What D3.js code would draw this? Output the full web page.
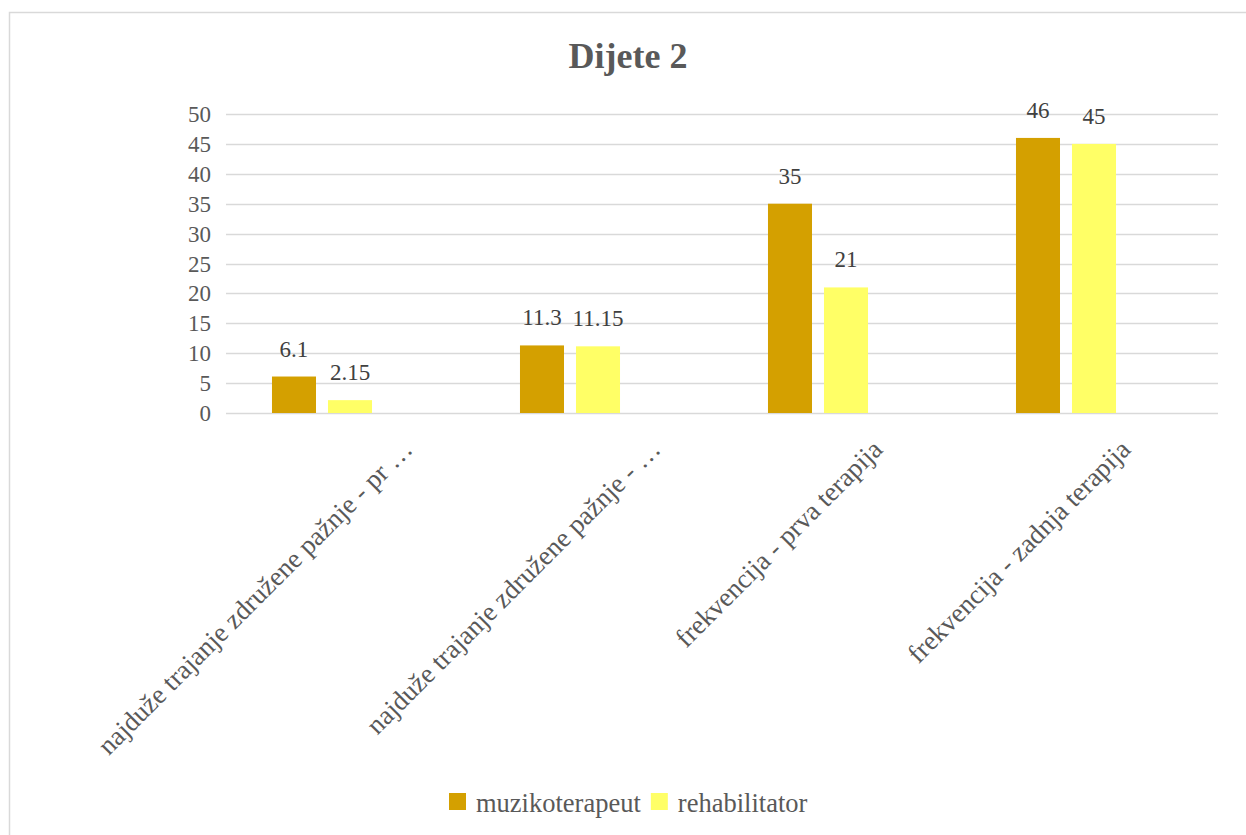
<!DOCTYPE html>
<html>
<head>
<meta charset="utf-8">
<script src="https://cdn.jsdelivr.net/npm/d3@7"></script>
<style>
  html, body { margin: 0; padding: 0; background: #fff; }
  svg { display: block; }
  svg text { font-family: "Liberation Serif", "Times New Roman", serif; }
</style>
</head>
<body>
<svg id="chart" width="1246" height="835"></svg>
<script>
// "Dijete 2" grouped bar chart (muzikoterapeut vs rehabilitator)

const categories = [
  "najduže trajanje združene pažnje - pr …",
  "najduže trajanje združene pažnje - …",
  "frekvencija - prva terapija",
  "frekvencija - zadnja terapija"
];
const seriesNames = ["muzikoterapeut", "rehabilitator"];
const muzikoterapeut = [6.1, 11.3, 35, 46];
const rehabilitator = [2.15, 11.15, 21, 45];
const yTicks = [0, 5, 10, 15, 20, 25, 30, 35, 40, 45, 50];

const COLORS = ["#d4a000", "#ffff66"];
const GRID = "#d9d9d9";
const FONT = "'Liberation Serif', 'Times New Roman', serif";

const svg = d3.select("#chart");
const W = 1246, H = 835;
const plot = { left: 226, right: 1218, top: 114, bottom: 413 };

// chart frame
svg.append("rect")
  .attr("x", 9.5).attr("y", 12.5)
  .attr("width", W).attr("height", H)
  .attr("fill", "none").attr("stroke", GRID).attr("stroke-width", 1.5);

const x = d3.scaleBand().domain(categories).range([plot.left, plot.right]).padding(0);
// Excel reserves room for a third (empty) series slot in every group
const slots = [...seriesNames, "_empty"];
const xInner = d3.scaleBand().domain(slots).range([0, x.bandwidth()])
  .paddingInner(0.214).paddingOuter(0.821);
const y = d3.scaleLinear().domain([0, 50]).range([plot.bottom, plot.top]);

// gridlines
svg.append("g")
  .selectAll("line")
  .data(yTicks)
  .join("line")
    .attr("x1", plot.left).attr("x2", plot.right)
    .attr("y1", d => Math.round(y(d)) + 0.5).attr("y2", d => Math.round(y(d)) + 0.5)
    .attr("stroke", GRID).attr("stroke-width", 1.5);

// y axis labels
const yAxis = svg.append("g")
  .attr("transform", `translate(${plot.left},0)`)
  .call(d3.axisLeft(y).tickValues(yTicks).tickSize(0).tickPadding(15))
  .attr("font-family", FONT)
  .attr("font-size", 23);
yAxis.select(".domain").remove();
yAxis.selectAll("text")
  .attr("font-family", FONT)
  .attr("fill", "#595959")
  .attr("dy", "0.33em");

// bars
const rows = categories.map((c, i) => ({ cat: c, values: [muzikoterapeut[i], rehabilitator[i]] }));
const groups = svg.append("g").selectAll("g")
  .data(rows)
  .join("g")
    .attr("transform", d => `translate(${x(d.cat)},0)`);

groups.selectAll("rect")
  .data(d => d.values.map((v, j) => ({ s: seriesNames[j], v, j })))
  .join("rect")
    .attr("x", d => xInner(d.s))
    .attr("y", d => y(d.v))
    .attr("width", xInner.bandwidth())
    .attr("height", d => y(0) - y(d.v))
    .attr("fill", d => COLORS[d.j]);

groups.selectAll("text.val")
  .data(d => d.values.map((v, j) => ({ s: seriesNames[j], v, j })))
  .join("text")
    .attr("class", "val")
    .attr("x", d => xInner(d.s) + xInner.bandwidth() / 2)
    .attr("y", d => y(d.v) - 20)
    .attr("text-anchor", "middle")
    .attr("font-family", FONT)
    .attr("font-size", 23)
    .attr("fill", "#404040")
    .text(d => d.v);

// category labels, rotated -45°
svg.append("g").selectAll("text")
  .data(categories)
  .join("text")
    .attr("transform", d => {
      const cx = x(d) + x.bandwidth() / 2 + (d.endsWith("…") ? 64 : 38);
      return `translate(${cx},451) rotate(-45)`;
    })
    .attr("text-anchor", "end")
    .attr("font-family", FONT)
    .attr("font-size", 27)
    .attr("fill", "#595959")
    .text(d => d);

// title
svg.append("text")
  .attr("x", 628).attr("y", 68)
  .attr("text-anchor", "middle")
  .attr("font-family", FONT)
  .attr("font-size", 36)
  .attr("font-weight", "bold")
  .attr("fill", "#595959")
  .text("Dijete 2");

// legend
const legend = svg.append("g").attr("transform", "translate(449,812)");
let lx = 0;
seriesNames.forEach((name, i) => {
  legend.append("rect")
    .attr("x", lx).attr("y", -19)
    .attr("width", 17).attr("height", 17)
    .attr("fill", COLORS[i]);
  const t = legend.append("text")
    .attr("x", lx + 27).attr("y", 0)
    .attr("font-family", FONT)
    .attr("font-size", 26.5)
    .attr("fill", "#595959")
    .text(name);
  lx += 27 + t.node().getComputedTextLength() + 10;
});
</script>
</body>
</html>
